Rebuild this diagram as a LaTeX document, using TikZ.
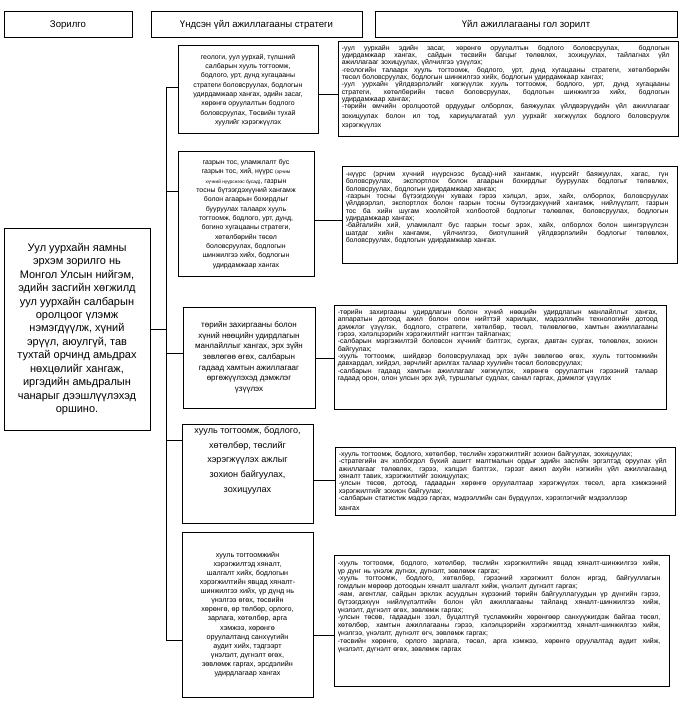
\documentclass[tikz,border=0pt]{standalone}
\usepackage{fontspec}
\setmainfont{Liberation Sans}
\newcommand\jl[1]{\makebox[\hsize][s]{\spaceskip=0.278em plus 1fil\relax#1}}
\begin{document}
\begin{tikzpicture}[x=0.75pt,y=-0.75pt,
  frame/.style={draw, line width=0.75pt, inner sep=0pt},
  hdr/.style={frame, minimum height=19.5pt, font=\fontsize{7.2}{8.6}\selectfont},
  abox/.style={frame, align=center},
  conn/.style={line width=0.75pt},
  ctext/.style={anchor=north west, inner sep=0pt, align=left, font=\fontsize{5.2}{5.5}\selectfont}]
\useasboundingbox[fill=white] (0,0) rectangle (679,709);

% headers
\node[hdr, minimum width=96pt] (h1) at (68,25) {Зорилго};
\node[hdr, minimum width=158.25pt] (h2) at (256.5,25) {Үндсэн үйл ажиллагааны стратеги};
\node[hdr, minimum width=226.5pt] (h3) at (526,25) {Үйл ажиллагааны гол зорилт};

% mission
\node[abox, minimum width=109.5pt, minimum height=151.5pt, font=\fontsize{8.25}{10.1}\selectfont] (goal) at (77,329)
{Уул уурхайн яамны\\эрхэм зорилго нь\\Монгол Улсын нийгэм,\\эдийн засгийн хөгжилд\\уул уурхайн салбарын\\оролцоог үлэмж\\нэмэгдүүлж, хүний\\эрүүл, аюулгүй, тав\\тухтай орчинд амьдрах\\нөхцөлийг хангаж,\\иргэдийн амьдралын\\чанарыг дээшлүүлэхэд\\оршино.};

% strategies
\node[abox, minimum width=105pt, minimum height=66pt, font=\fontsize{5.2}{7}\selectfont] (a1) at (248,90)
{геологи, уул уурхай, түлшний\\салбарын хууль тогтоомж,\\бодлого, урт, дунд хугацааны\\стратеги боловсруулах, бодлогын\\удирдамжаар хангах, эдийн засаг,\\хөрөнгө оруулалтын бодлого\\боловсруулах, Төсвийн тухай\\хуулийг хэрэгжүүлэх};

\node[abox, minimum width=102pt, minimum height=93pt, font=\fontsize{5.2}{7}\selectfont] (a2) at (246,214)
{газрын тос, уламжлалт бус\\газрын тос, хий, нүүрс {\fontsize{3.6}{4}\selectfont (эрчим}\\{\fontsize{3.6}{4}\selectfont хүчний нүүрснээс бусад)}, газрын\\тосны бүтээгдэхүүний хангамж\\болон агаарын бохирдлыг\\бууруулах талаарх хууль\\тогтоомж, бодлого, урт, дунд,\\богино хугацааны стратеги,\\хөтөлбөрийн төсөл\\боловсруулах, бодлогын\\шинжилгээ хийх, бодлогын\\удирдамжаар хангах};

\node[abox, minimum width=99pt, minimum height=75.75pt, font=\fontsize{6}{8}\selectfont] (a3) at (249,357.5)
{төрийн захиргааны болон\\хүний нөөцийн удирдлагын\\манлайллыг хангах, эрх зүйн\\зөвлөгөө өгөх, салбарын\\гадаад хамтын ажиллагааг\\өргөжүүлэхэд дэмжлэг\\үзүүлэх};

\node[frame, minimum width=98.25pt, minimum height=74.25pt] (a4) at (247.5,473.5) {};
\node[anchor=north, inner sep=0pt, align=center, font=\fontsize{6.8}{11.2}\selectfont] (a4t) at ([yshift=-2pt]a4.north)
{хууль тогтоомж, бодлого,\\хөтөлбөр, төслийг\\хэрэгжүүлэх ажлыг\\зохион байгуулах,\\зохицуулах};

\node[abox, minimum width=98.25pt, minimum height=123.75pt, font=\fontsize{5.4}{6.8}\selectfont] (a5) at (247.5,614.5)
{хууль тогтоомжийн\\хэрэгжилтэд хяналт,\\шалгалт хийх, бодлогын\\хэрэгжилтийн явцад хяналт-\\шинжилгээ хийх, үр дүнд нь\\үнэлгээ өгөх, төсвийн\\хөрөнгө, өр төлбөр, орлого,\\зарлага, хөтөлбөр, арга\\хэмжээ, хөрөнгө\\оруулалтанд санхүүгийн\\аудит хийх, тэдгээрт\\үнэлэлт, дүгнэлт өгөх,\\зөвлөмж гаргах, эрсдэлийн\\удирдлагаар хангах};

% goals
\node[frame, minimum width=255pt, minimum height=71.25pt] (c1) at (508,89.5) {};
\node[ctext, text width=246pt] (c1t) at ([xshift=3pt,yshift=-2.5pt]c1.north west)
{\jl{-уул уурхайн эдийн засаг, хөрөнгө оруулалтын бодлого боловсруулах,\hspace{6pt} бодлогын}\\
\jl{удирдамжаар хангах, сайдын төсвийн багцыг төлөвлөх, зохицуулах, тайлагнах үйл}\\
ажиллагааг зохицуулах, үйлчилгээ үзүүлэх;\\
\jl{-геологийн талаарх хууль тогтоомж, бодлого, урт, дунд хугацааны стратеги, хөтөлбөрийн}\\
төсөл боловсруулах, бодлогын шинжилгээ хийх, бодлогын удирдамжаар хангах;\\
\jl{-уул уурхайн үйлдвэрлэлийг хөгжүүлэх хууль тогтоомж, бодлого, урт, дунд хугацааны}\\
\jl{стратеги, хөтөлбөрийн төсөл боловсруулах, бодлогын шинжилгээ хийх, бодлогын}\\
удирдамжаар хангах;\\
\jl{-төрийн өмчийн оролцоотой ордуудыг олборлох, баяжуулах үйлдвэрүүдийн үйл ажиллагааг}\\[1.6pt]
\jl{зохицуулах болон ил тод, хариуцлагатай уул уурхайг хөгжүүлэх бодлого боловсруулж}\\[1.6pt]
хэрэгжүүлэх};

\node[frame, minimum width=251.25pt, minimum height=72pt] (c2) at (509.5,215) {};
\node[ctext, text width=242pt] (c2t) at ([xshift=3pt,yshift=-3.5pt]c2.north west)
{\jl{-нүүрс (эрчим хүчний нүүрснээс бусад)-ний хангамж, нүүрсийг баяжуулах, хагас, гүн}\\
\jl{боловсруулах, экспортлох болон агаарын бохирдлыг бууруулах бодлогыг төлөвлөх,}\\
боловсруулах, бодлогын удирдамжаар хангах;\\
\jl{-газрын тосны бүтээгдэхүүн хуваах гэрээ хэлцэл, эрэх, хайх, олборлох, боловсруулах}\\
\jl{үйлдвэрлэл, экспортлох болон газрын тосны бүтээгдэхүүний хангамж, нийлүүлэлт, газрын}\\
\jl{тос ба хийн шугам хоолойтой холбоотой бодлогыг төлөвлөх, боловсруулах, бодлогын}\\
удирдамжаар хангах;\\
\jl{-байгалийн хий, уламжлалт бус газрын тосыг эрэх, хайх, олборлох болон шингэрүүлсэн}\\
\jl{шатдаг хийн хангамж, үйлчилгээ, биотүлшний үйлдвэрлэлийн бодлогыг төлөвлөх,}\\
боловсруулах, бодлогын удирдамжаар хангах.};

\node[frame, minimum width=249pt, minimum height=78pt] (c3) at (500,357) {};
\node[ctext, text width=240pt] (c3t) at ([xshift=3pt,yshift=-3.5pt]c3.north west)
{\jl{-төрийн захиргааны удирдлагын болон хүний нөөцийн удирдлагын манлайллыг хангах,}\\
\jl{аппаратын дотоод ажил болон олон нийттэй харилцах, мэдээллийн технологийн дотоод}\\
\jl{дэмжлэг үзүүлэх, бодлого, стратеги, хөтөлбөр, төсөл, төлөвлөгөө, хамтын ажиллагааны}\\
гэрээ, хэлэлцээрийн хэрэгжилтийг нэгтгэн тайлагнах;\\
\jl{-салбарын мэргэжилтэй боловсон хүчнийг бэлтгэх, сургах, давтан сургах, төлөвлөх, зохион}\\
байгуулах;\\
\jl{-хууль тогтоомж, шийдвэр боловсруулахад эрх зүйн зөвлөгөө өгөх, хууль тогтоомжийн}\\
давхардал, хийдэл, зөрчлийг арилгах талаар хуулийн төсөл боловсруулах;\\
\jl{-салбарын гадаад хамтын ажиллагааг хөгжүүлэх, хөрөнгө оруулалтын гэрээний талаар}\\
гадаад орон, олон улсын эрх зүй, туршлагыг судлах, санал гаргах, дэмжлэг үзүүлэх};

\node[frame, minimum width=255pt, minimum height=51pt] (c4) at (505,481) {};
\node[ctext, text width=246pt] (c4t) at ([xshift=3pt,yshift=-3.5pt]c4.north west)
{-хууль тогтоомж, бодлого, хөтөлбөр, төслийн хэрэгжилтийг зохион байгуулах, зохицуулах;\\
\jl{-стратегийн ач холбогдол бүхий ашигт малтмалын ордыг эдийн засгийн эргэлтэд оруулах үйл}\\
\jl{ажиллагааг төлөвлөх, гэрээ, хэлцэл бэлтгэх, гэрээт ажил ахуйн нэгжийн үйл ажиллагаанд}\\
хяналт тавих, хэрэгжилтийг зохицуулах;\\
\jl{-улсын төсөв, дотоод, гадаадын хөрөнгө оруулалтаар хэрэгжүүлэх төсөл, арга хэмжээний}\\
хэрэгжилтийг зохион байгуулах;\\
-салбарын статистик мэдээ гаргах, мэдээллийн сан бүрдүүлэх, хэрэглэгчийг мэдээллээр\\[1.8pt]
хангах};

\node[frame, minimum width=251.25pt, minimum height=98.25pt] (c5) at (501.5,620.5) {};
\node[ctext, text width=242pt, font=\fontsize{5.2}{5.85}\selectfont] (c5t) at ([xshift=3pt,yshift=-4pt]c5.north west)
{\jl{-хууль тогтоомж, бодлого, хөтөлбөр, төслийн хэрэгжилтийн явцад хяналт-шинжилгээ хийж,}\\
үр дүнг нь үнэлж дүгнэх, дүгнэлт, зөвлөмж гаргах;\\
\jl{-хууль тогтоомж, бодлого, хөтөлбөр, гэрээний хэрэгжилт болон иргэд, байгууллагын}\\
гомдлын мөрөөр дотоодын хяналт шалгалт хийж, үнэлэлт дүгнэлт гаргах;\\
\jl{-яам, агентлаг, сайдын эрхлэх асуудлын хүрээний төрийн байгууллагуудын үр дүнгийн гэрээ,}\\
\jl{бүтээгдэхүүн нийлүүлэлтийн болон үйл ажиллагааны тайланд хяналт-шинжилгээ хийж,}\\
үнэлэлт, дүгнэлт өгөх, зөвлөмж гаргах;\\
\jl{-улсын төсөв, гадаадын зээл, буцалтгүй тусламжийн хөрөнгөөр санхүүжигдэж байгаа төсөл,}\\
\jl{хөтөлбөр, хамтын ажиллагааны гэрээ, хэлэлцээрийн хэрэгжилтэд хяналт-шинжилгээ хийж,}\\
үнэлгээ, үнэлэлт, дүгнэлт өгч, зөвлөмж гаргах;\\
\jl{-төсвийн хөрөнгө, орлого зарлага, төсөл, арга хэмжээ, хөрөнгө оруулалтад аудит хийж,}\\
үнэлэлт, дүгнэлт өгөх, зөвлөмж гаргах};

% trunk and branches
\coordinate (t1) at (166,88);
\coordinate (t2) at (166,192);
\coordinate (t3) at (166,353);
\coordinate (t4) at (166,440);
\coordinate (t5) at (166,640);
\draw[conn] (t1) -- (t5);
\draw[conn] (goal.east) -- (goal.east -| t1);
\draw[conn] (t1) -- (t1 -| a1.west);
\draw[conn] (t2) -- (t2 -| a2.west);
\draw[conn] (t3) -- (t3 -| a3.west);
\draw[conn] (t4) -- (t4 -| a4.west);
\draw[conn] (t5) -- (t5 -| a5.west);

% right connectors
\coordinate (r1) at (0,95);
\coordinate (r2) at (0,220);
\coordinate (r3) at (0,358);
\coordinate (r4) at (0,480);
\coordinate (r5) at (0,635);
\draw[conn] (a1.east |- r1) -- (c1.west |- r1);
\draw[conn] (a2.east |- r2) -- (c2.west |- r2);
\draw[conn] (a3.east |- r3) -- (c3.west |- r3);
\draw[conn] (a4.east |- r4) -- (c4.west |- r4);
\draw[conn] (a5.east |- r5) -- (c5.west |- r5);
\end{tikzpicture}
\end{document}
